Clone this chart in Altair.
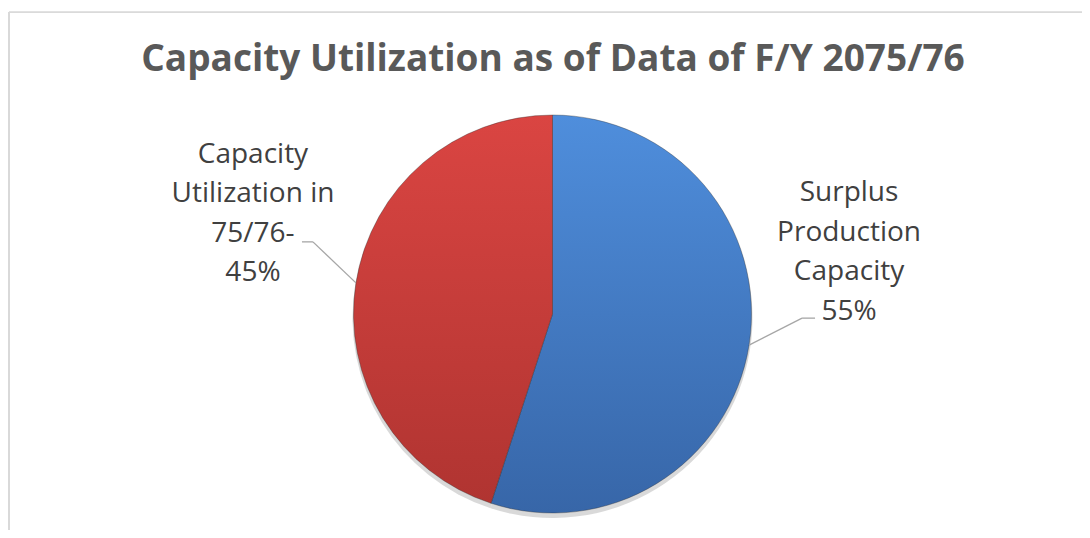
import altair as alt
import pandas as pd

# ---- data ----
title_text = "Capacity Utilization as of Data of F/Y 2075/76"
categories = ["Surplus Production Capacity", "Capacity Utilization in 75/76-"]
values = [55, 45]
label_text = ["Surplus\nProduction\nCapacity\n55%", "Capacity\nUtilization in\n75/76-\n45%"]
order_idx = [0, 1]

df = pd.DataFrame({"category": categories, "value": values,
                   "label": label_text, "order": order_idx})

# ---- layout (pixels inside the view) ----
W, H = 1073, 518
CX, CY, R = 543.5, 302, 199
LH = 39.5
LBL_DX = (100, -103)
LBL_DY = (-92.6 - 1.5 * LH, -69 - 1.5 * LH)
ELB_DX = (53, -43)
ELB_DY = (-27, -41)
TAIL = (13, -11)

def pick(pair):
    return f"(datum.order == 0 ? {pair[0]} : {pair[1]})"

blue_grad = {"gradient": "linear", "x1": 0, "y1": 0, "x2": 0, "y2": 1,
             "stops": [{"offset": 0, "color": "#4F8EDC"},
                       {"offset": 1, "color": "#3766A8"}]}
red_grad = {"gradient": "linear", "x1": 0, "y1": 0, "x2": 0, "y2": 1,
            "stops": [{"offset": 0, "color": "#DA4542"},
                      {"offset": 1, "color": "#B03431"}]}

base = alt.Chart(df)

geo = (base
       .transform_joinaggregate(total="sum(value)")
       .transform_window(cum="sum(value)", sort=[alt.SortField("order")])
       .transform_calculate(mid="2*PI*(datum.cum - datum.value/2)/datum.total")
       .transform_calculate(ex=f"{CX} + {R}*sin(datum.mid)",
                            ey=f"{CY} - {R}*cos(datum.mid)")
       .transform_calculate(bx=f"datum.ex + {pick(ELB_DX)}",
                            by=f"datum.ey + {pick(ELB_DY)}",
                            lx=f"datum.ex + {pick(LBL_DX)}",
                            ly=f"datum.ey + {pick(LBL_DY)}")
       .transform_calculate(tx=f"datum.bx + {pick(TAIL)}"))

shadow = base.mark_arc(outerRadius=R + 1, color="#BFBFBF", opacity=0.6).encode(
    theta=alt.Theta("value:Q", stack=True),
    order=alt.Order("order:Q"),
    x=alt.value(CX), y=alt.value(CY + 4),
)

pie = base.mark_arc(outerRadius=R, stroke="#2a2a2a", strokeOpacity=0.35,
                    strokeWidth=1).encode(
    theta=alt.Theta("value:Q", stack=True),
    order=alt.Order("order:Q"),
    color=alt.condition(alt.datum.order == 0, alt.value(blue_grad), alt.value(red_grad)),
    x=alt.value(CX), y=alt.value(CY),
)

lead1 = geo.mark_rule(color="#A6A6A6", strokeWidth=1.3).encode(
    x=alt.X("ex:Q", scale=None, axis=None), y=alt.Y("ey:Q", scale=None, axis=None),
    x2="bx:Q", y2="by:Q")
lead2 = geo.mark_rule(color="#A6A6A6", strokeWidth=1.3).encode(
    x=alt.X("bx:Q", scale=None, axis=None), y=alt.Y("by:Q", scale=None, axis=None),
    x2="tx:Q", y2="by:Q")

labels = geo.mark_text(font="Open Sans", fontSize=28, color="#404040",
                       lineBreak="\n", lineHeight=LH, align="center",
                       baseline="middle").encode(
    x=alt.X("lx:Q", scale=None, axis=None), y=alt.Y("ly:Q", scale=None, axis=None),
    text="label:N")

frame = alt.Chart(alt.Data(values=[{"title": title_text}]))
left_edge = frame.mark_rule(color="#D9D9D9", strokeWidth=2).encode(
    x=alt.value(0), y=alt.value(0), y2=alt.value(H))
top_edge = frame.mark_rule(color="#D9D9D9", strokeWidth=1.5).encode(
    x=alt.value(0), x2=alt.value(W), y=alt.value(0))
title = frame.mark_text(font="Open Sans", fontSize=37, fontWeight="bold",
                        color="#595959", align="center",
                        baseline="alphabetic").encode(
    x=alt.value(544), y=alt.value(59), text="title:N")

chart = alt.layer(left_edge, top_edge, title, shadow, pie, lead1, lead2, labels).properties(
    width=W, height=H,
    padding={"left": 1, "top": 4, "right": 0, "bottom": 0},
    autosize=alt.AutoSizeParams(type="none"),
).configure_view(stroke=None).configure(background="white")

chart.save("out.html", embed_options={"renderer": "svg", "actions": False})
